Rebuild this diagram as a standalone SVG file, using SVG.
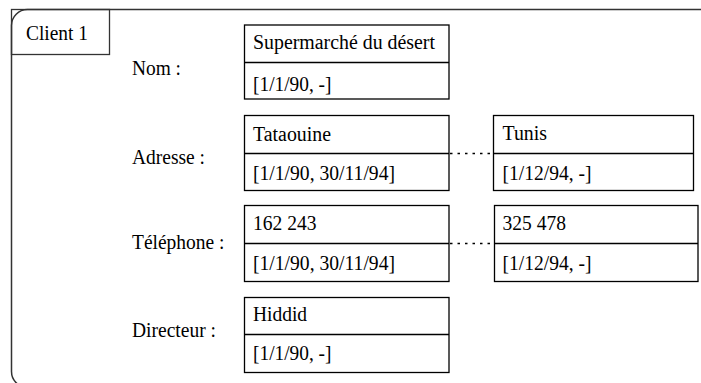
<svg xmlns="http://www.w3.org/2000/svg" width="701" height="383" viewBox="0 0 701 383">
<style>
text{font-family:'Liberation Serif','Times New Roman',serif;font-size:20px;fill:#000}
.box{fill:#fff;stroke:#000;stroke-width:1.3}
.div{stroke:#000;stroke-width:1.3}
.dot{stroke:#000;stroke-width:1.3;stroke-dasharray:2.5 5;fill:none}
</style>
<rect width="701" height="383" fill="#fff"/>
<g id="frame">
<rect x="11.5" y="9.5" width="710" height="378" rx="16" ry="16" fill="none" stroke="#333" stroke-width="1.5"/>
<rect x="11.5" y="9.5" width="98" height="45" fill="none" stroke="#333" stroke-width="1.3"/>
<text x="26" y="40" textLength="62" lengthAdjust="spacingAndGlyphs">Client 1</text>
</g>
<g id="labels">
<text x="132" y="75" textLength="49" lengthAdjust="spacingAndGlyphs">Nom :</text>
<text x="132" y="163.5" textLength="73" lengthAdjust="spacingAndGlyphs">Adresse :</text>
<text x="132" y="248.5" textLength="92.5" lengthAdjust="spacingAndGlyphs">Téléphone :</text>
<text x="132" y="337" textLength="84" lengthAdjust="spacingAndGlyphs">Directeur :</text>
</g>
<g id="connectors">
<line class="dot" x1="450" y1="153.5" x2="493" y2="153.5"/>
<line class="dot" x1="450" y1="243.5" x2="494" y2="243.5"/>
</g>
<g id="nom">
<rect class="box" x="244.5" y="25" width="204.5" height="74"/>
<line class="div" x1="244.5" y1="62.5" x2="449" y2="62.5"/>
<text x="253" y="49" textLength="182" lengthAdjust="spacingAndGlyphs">Supermarché du désert</text>
<text x="253" y="90.5" textLength="78.5" lengthAdjust="spacingAndGlyphs">[1/1/90, -]</text>
</g>
<g id="adresse1">
<rect class="box" x="244.5" y="115.5" width="204.5" height="75"/>
<line class="div" x1="244.5" y1="153.5" x2="449" y2="153.5"/>
<text x="253" y="140.5" textLength="78" lengthAdjust="spacingAndGlyphs">Tataouine</text>
<text x="253" y="180" textLength="142" lengthAdjust="spacingAndGlyphs">[1/1/90, 30/11/94]</text>
</g>
<g id="adresse2">
<rect class="box" x="493.5" y="115.5" width="200" height="75"/>
<line class="div" x1="493.5" y1="153.5" x2="693.5" y2="153.5"/>
<text x="502.5" y="140" textLength="44.5" lengthAdjust="spacingAndGlyphs">Tunis</text>
<text x="502.5" y="179.5" textLength="89" lengthAdjust="spacingAndGlyphs">[1/12/94, -]</text>
</g>
<g id="tel1">
<rect class="box" x="244.5" y="205.5" width="204.5" height="76"/>
<line class="div" x1="244.5" y1="243.5" x2="449" y2="243.5"/>
<text x="253" y="229.5" textLength="63.5" lengthAdjust="spacingAndGlyphs">162 243</text>
<text x="253" y="270" textLength="142" lengthAdjust="spacingAndGlyphs">[1/1/90, 30/11/94]</text>
</g>
<g id="tel2">
<rect class="box" x="494.5" y="205.5" width="203.5" height="76"/>
<line class="div" x1="494.5" y1="243.5" x2="698" y2="243.5"/>
<text x="502.5" y="229.5" textLength="63.5" lengthAdjust="spacingAndGlyphs">325 478</text>
<text x="502.5" y="270" textLength="89" lengthAdjust="spacingAndGlyphs">[1/12/94, -]</text>
</g>
<g id="directeur">
<rect class="box" x="244.5" y="297.5" width="204.5" height="75"/>
<line class="div" x1="244.5" y1="334.5" x2="449" y2="334.5"/>
<text x="253" y="320.5" textLength="54" lengthAdjust="spacingAndGlyphs">Hiddid</text>
<text x="253" y="360" textLength="78.5" lengthAdjust="spacingAndGlyphs">[1/1/90, -]</text>
</g>
</svg>
